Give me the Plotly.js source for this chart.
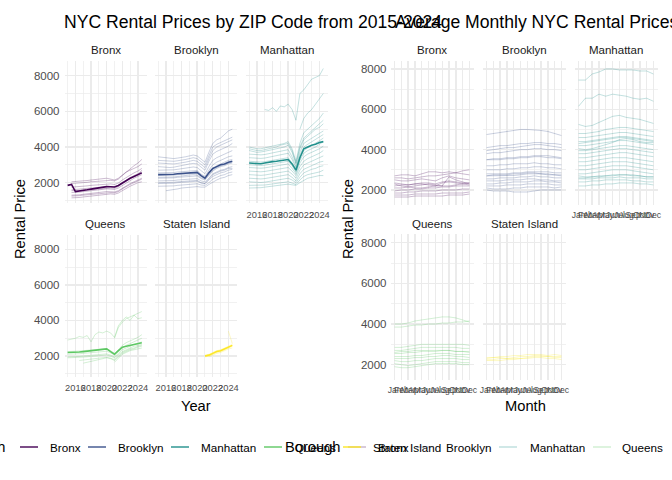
<!DOCTYPE html>
<html><head><meta charset="utf-8">
<script src="https://cdn.plot.ly/plotly-3.0.1.min.js"></script>
<style>html,body{margin:0;padding:0;background:#fff}#chart{width:672px;height:480px}</style>
</head><body><div id="chart"></div>
<script>
// ---------- data ----------
const boroughs = ['Bronx','Brooklyn','Manhattan','Queens','Staten Island'];
const boroughColors = ['#440154','#3B528B','#21908C','#5DC863','#FDE725'];
const years = [2015,2015.5,2016,2016.5,2017,2017.5,2018,2018.5,2019,2019.5,2020,2020.5,2021,2021.5,2022,2022.5,2023,2023.5,2024,2024.5];
const yearTicks = [2016,2018,2020,2022,2024];
const months = ['Jan','Feb','Mar','Apr','May','Jun','Jul','Aug','Sep','Oct','Nov','Dec'];
const n = null;

const bronxZip = [
 [n,2050,2060,2080,2100,2120,2150,2180,2200,2230,2250,2200,2150,2250,2450,2600,2700,2800,2900,3050],
 [n,1750,1760,1770,1800,1820,1850,1870,1900,1920,1950,1930,1900,1980,2150,2300,2450,2550,2650,2800],
 [n,1600,1610,1620,1650,1680,1700,1720,1750,1780,1800,1780,1760,1850,2000,2150,2300,2400,2500,2600],
 [n,1450,1450,1470,1500,1530,1560,1580,1600,1630,1650,1640,1620,1700,1850,2000,2150,2250,2350,2450],
 [n,1300,1300,1320,1350,1380,1400,1430,1450,1480,1500,1490,1480,1550,1700,1850,1950,2050,2150,2250],
 [n,1150,1150,1170,1200,1230,1260,1290,1320,1350,1380,1370,1350,1420,1550,1700,1800,1900,2000,2050],
 [n,1950,1960,1980,2000,2020,2050,2070,2100,2120,2150,2130,2100,2200,2400,2600,2800,2950,3100,3300],
 [n,1550,1550,1560,1580,1600,1620,1650,1680,1700,1720,1700,1690,1780,1950,2100,2250,2350,2450,2700],
 [n,1250,1250,1270,1300,1320,1350,1370,1400,1420,1450,1440,1430,1500,1650,1800,1900,2000,2100,2200]
];
const bronxMean = [1850,1900,1500,1520,1560,1600,1640,1680,1720,1750,1780,1770,1760,1840,1980,2120,2250,2350,2450,2550];

const brooklynZip = [
 [3450,3420,3400,3380,3350,3380,3400,3450,3500,3550,3500,3300,3150,3700,4200,4400,4500,4700,4900,5000],
 [3100,3080,3050,3050,3050,3080,3100,3150,3200,3250,3200,3000,2850,3350,3800,4000,4100,4200,4300,4400],
 [2900,2880,2850,2850,2870,2900,2950,3000,3050,3080,3050,2850,2700,3200,3600,3750,3850,3950,4050,4200],
 [2700,2700,2680,2700,2720,2750,2780,2820,2850,2880,2850,2650,2500,2900,3250,3400,3500,3600,3700,3800],
 [2550,2550,2530,2550,2570,2600,2620,2650,2680,2700,2680,2480,2350,2700,3000,3150,3250,3350,3450,3500],
 [2400,2400,2380,2400,2420,2450,2470,2500,2520,2550,2530,2350,2250,2550,2800,2950,3050,3150,3250,3300],
 [2250,2250,2230,2250,2270,2300,2320,2350,2370,2400,2380,2230,2150,2400,2650,2800,2900,2950,3050,3100],
 [2100,2100,2090,2100,2120,2150,2170,2200,2220,2250,2230,2100,2050,2250,2500,2600,2700,2750,2850,2900],
 [1950,1950,1940,1950,1970,2000,2020,2050,2070,2100,2080,1980,1950,2150,2350,2450,2550,2600,2700,2750],
 [1800,1800,1790,1800,1820,1850,1870,1900,1920,1950,1940,1870,1850,2000,2200,2300,2400,2450,2550,2600],
 [n,n,1550,1570,1600,1650,1700,1720,1750,1780,1780,1750,1750,1900,2050,2150,2250,2300,2400,2450],
 [3250,3230,3200,3200,3200,3230,3250,3300,3350,3400,3350,3150,3000,3500,4000,4150,4250,4350,4450,4550],
 [2000,2000,1990,2000,2020,2050,2070,2100,2130,2150,2130,2000,1950,2200,2450,2550,2650,2700,2800,2800],
 [2300,2300,2290,2300,2320,2350,2380,2400,2430,2450,2430,2280,2200,2450,2700,2850,2950,3000,3100,3150]
];
const brooklynMean = [2450,2450,2430,2450,2470,2500,2520,2550,2570,2600,2580,2400,2250,2550,2800,2900,3000,3050,3150,3200];

const manhattanZip = [
 [n,n,n,n,6100,6050,6200,6000,6300,6250,6400,6100,5500,7000,7200,7500,7800,7900,8000,8400],
 [n,n,n,n,n,n,n,n,n,n,n,n,n,5000,5600,5900,6100,6400,6700,7000],
 [4000,3950,3900,3900,3950,4000,4050,4100,4150,4200,4300,3900,3200,4200,4800,5000,5200,5400,5600,5900],
 [3800,3750,3700,3720,3750,3800,3850,3900,3950,4000,4100,3700,3050,3900,4400,4600,4800,5000,5100,5300],
 [3600,3580,3550,3560,3580,3620,3650,3700,3750,3800,3850,3450,2900,3700,4200,4350,4500,4600,4750,4900],
 [3400,3380,3350,3360,3380,3420,3450,3500,3550,3600,3650,3300,2800,3550,4000,4150,4300,4400,4550,4700],
 [3200,3180,3150,3160,3180,3220,3250,3300,3330,3380,3400,3100,2700,3400,3800,3950,4100,4200,4350,4500],
 [3000,2980,2950,2960,2980,3020,3050,3100,3130,3180,3200,2950,2600,3250,3650,3800,3900,4000,4150,4300],
 [2850,2830,2800,2810,2830,2870,2900,2950,2980,3020,3050,2800,2500,3100,3450,3600,3700,3800,3900,4050],
 [2650,2630,2600,2610,2630,2670,2700,2750,2780,2820,2850,2650,2400,2900,3200,3350,3450,3550,3650,3800],
 [2450,2430,2400,2410,2430,2470,2500,2550,2580,2620,2650,2480,2250,2700,3000,3100,3200,3300,3400,3500],
 [2250,2230,2200,2210,2230,2270,2300,2350,2380,2420,2450,2300,2100,2500,2750,2850,2950,3050,3150,3200],
 [2050,2030,2000,2010,2030,2070,2100,2150,2180,2220,2250,2150,2000,2300,2550,2650,2750,2800,2900,2950],
 [1850,1850,1830,1850,1870,1900,1930,1970,2000,2030,2050,1980,1900,2150,2350,2450,2500,2550,2600,2700],
 [1700,1700,1700,1720,1750,1780,1800,1830,1870,1900,1920,1880,1850,2000,2150,2250,2300,2350,2400,2400],
 [3900,3850,3800,3800,3850,3900,3950,4000,4100,4150,4200,3800,3100,4000,4500,4700,4900,5100,5300,5500]
];
const manhattanMean = [3100,3080,3050,3060,3100,3150,3180,3200,3220,3250,3300,3050,2700,3400,3900,4000,4100,4150,4250,4300];

const queensZip = [
 [2900,2950,3000,3100,3050,3150,2800,3200,3350,3300,3400,3300,3050,3700,4000,4200,4000,4300,4100,4150],
 [n,n,n,n,n,n,n,n,n,n,n,n,3000,3600,3900,4100,4200,4300,4400,4500],
 [2250,2250,2270,2280,2300,2320,2330,2350,2380,2400,2420,2300,2150,2350,2600,2750,2850,2950,3050,3200],
 [2100,2100,2120,2130,2150,2170,2180,2200,2220,2250,2270,2180,2050,2250,2450,2600,2700,2800,2900,3000],
 [1950,1950,1970,1980,2000,2020,2030,2050,2070,2100,2120,2050,1950,2150,2350,2450,2550,2650,2700,2800],
 [1900,1900,1910,1920,1940,1960,1980,2000,2020,2040,2060,1990,1900,2080,2250,2350,2450,2550,2600,2650],
 [n,n,n,n,1600,1650,1700,1750,1800,1850,1900,1850,1750,1950,2150,2250,2350,2400,2500,2550],
 [n,n,n,n,n,n,n,n,n,n,n,n,1650,1900,2100,2200,2300,2350,2400,2450],
 [n,n,n,1750,1780,1800,1820,1850,1870,1900,1930,1880,1800,2000,2200,2300,2400,2450,2550,2600]
];
const queensMean = [2200,2200,2220,2230,2250,2270,2280,2300,2330,2350,2400,2250,2100,2300,2500,2550,2600,2650,2700,2750];

const statenZip = [
 [n,n,n,n,n,n,n,n,n,n,n,n,2000,2050,2150,2250,2300,2400,2500,2600],
 [n,n,n,n,n,n,n,n,n,n,n,n,1950,2000,2100,2200,2250,2350,2450,2550],
 [n,n,n,n,n,n,n,n,n,n,n,n,2050,2100,2200,2300,2350,2450,2550,2650],
 [n,n,n,n,n,n,n,n,n,n,n,n,n,1950,2050,2150,2200,2300,2400,2450],
 [n,n,n,n,n,n,n,n,n,n,n,n,n,n,n,n,n,n,3400,2700]
];
const statenMean = [n,n,n,n,n,n,n,n,n,n,n,n,2000,2050,2150,2250,2300,2400,2500,2600];

const bronxMonthly = [
 [2700,2750,2750,2700,2800,2900,2900,2850,2900,2850,2800,2750],
 [2600,2600,2550,2600,2650,2700,2700,2750,2800,2850,2950,3000],
 [2500,2450,2450,2500,2550,2500,2450,2600,2700,2600,2550,2500],
 [2350,2300,2250,2300,2350,2350,2300,2400,2450,2400,2350,2350],
 [2200,2250,2250,2300,2300,2250,2200,2350,2400,2350,2300,2250],
 [2100,2100,2150,2100,2100,2150,2200,2200,2200,2250,2300,2350],
 [1950,2000,2000,2050,2050,2100,2100,2150,2150,2200,2200,2200],
 [1850,1850,1900,1900,1950,1950,1950,2000,2000,2000,2050,2050],
 [1750,1750,1750,1800,1800,1800,1800,1850,1850,1850,1850,1900],
 [1650,1650,1650,1700,1700,1700,1700,1700,1750,1750,1750,1800],
 [2300,2200,2150,2200,2250,2300,2250,2200,2650,2500,2400,2300]
];
const brooklynMonthly = [
 [4750,4800,4850,4900,4950,5000,5000,4980,4950,4900,4800,4700],
 [4100,4150,4200,4200,4250,4300,4300,4350,4350,4300,4300,4250],
 [3950,4000,4050,4100,4100,4150,4200,4250,4250,4200,4150,4100],
 [3800,3850,3850,3900,3950,4000,4000,4050,4050,4000,4000,3950],
 [3500,3550,3550,3600,3600,3650,3650,3700,3700,3700,3650,3600],
 [3200,3200,3250,3250,3300,3300,3300,3350,3300,3300,3250,3250],
 [3000,3000,3000,3050,3050,3100,3100,3150,3150,3100,3100,3050],
 [2800,2800,2800,2800,2850,2850,2900,2900,2900,2900,2850,2850],
 [2700,2700,2700,2700,2720,2750,2800,2800,2800,2750,2750,2700],
 [2550,2550,2600,2600,2600,2650,2650,2700,2650,2650,2600,2600],
 [2450,2450,2450,2500,2500,2500,2550,2550,2500,2500,2450,2450],
 [2300,2300,2350,2350,2400,2400,2400,2450,2450,2400,2400,2350],
 [2200,2200,2200,2250,2250,2250,2300,2300,2300,2300,2250,2250],
 [2100,2050,2050,2050,2100,2100,2150,2150,2150,2150,2100,2150],
 [2000,1950,1950,1950,1900,1900,1900,1950,2000,2000,2000,2000],
 [2700,2750,2750,2750,2800,2800,2850,2850,2800,2800,2750,2750],
 [3500,3500,3500,3550,3550,3600,3600,3650,3650,3600,3600,3550]
];
const manhattanMonthly = [
 [7450,7450,7750,7850,8000,8000,7950,7950,7950,7900,7900,7750],
 [6150,6550,6550,6750,6650,6750,6700,6650,6550,6500,6550,6400],
 [5250,5150,5200,5350,5500,5650,5700,5600,5550,5500,5400,5300],
 [4800,4800,4850,4900,5000,5050,5100,5100,5050,5000,4950,4900],
 [4600,4600,4650,4700,4750,4800,4850,4850,4800,4750,4700,4650],
 [4400,4400,4450,4500,4550,4600,4650,4650,4600,4550,4500,4450],
 [4200,4200,4250,4300,4350,4400,4450,4450,4400,4350,4300,4250],
 [4050,4000,4050,4150,4250,4350,4500,4550,4500,4400,4350,4350],
 [3950,3950,4000,4050,4100,4150,4200,4200,4150,4100,4050,4000],
 [3800,3800,3850,3900,3950,4000,4050,4050,4000,3950,3900,3850],
 [3600,3600,3650,3700,3750,3800,3850,3850,3800,3750,3700,3650],
 [3400,3400,3450,3500,3550,3600,3600,3600,3550,3500,3450,3400],
 [3200,3200,3250,3300,3350,3400,3400,3400,3350,3300,3250,3200],
 [3000,3000,3050,3100,3150,3200,3200,3200,3150,3100,3050,3000],
 [2800,2800,2850,2900,2950,3000,3000,3000,2950,2900,2850,2800],
 [2700,2650,2650,2700,2700,2750,2750,2750,2700,2700,2650,2650],
 [2550,2550,2550,2600,2600,2600,2650,2600,2600,2600,2550,2550],
 [2400,2400,2450,2450,2500,2500,2500,2500,2450,2450,2400,2400],
 [2200,2200,2250,2250,2300,2300,2350,2350,2350,2300,2300,2250],
 [4300,4350,4400,4450,4500,4550,4600,4600,4550,4500,4450,4400],
 [2600,2600,2650,2650,2700,2700,2750,2750,2750,2700,2650,2650]
];
const queensMonthly = [
 [4000,4000,4050,4150,4200,4250,4300,4350,4350,4300,4200,4100],
 [3850,3850,3900,3950,3950,4000,4000,4050,4050,4100,4100,4150],
 [2850,2850,2900,2950,3000,3000,3000,3000,3000,3000,3000,2950],
 [2700,2700,2750,2800,2850,2850,2850,2850,2850,2850,2800,2800],
 [2550,2550,2600,2600,2650,2700,2700,2700,2700,2650,2650,2650],
 [2400,2400,2400,2450,2450,2500,2550,2550,2550,2500,2500,2500],
 [2300,2300,2300,2350,2350,2400,2400,2450,2450,2400,2400,2350],
 [2200,2150,2150,2200,2200,2250,2300,2300,2300,2300,2250,2250],
 [2050,2000,1950,2000,2050,2100,2150,2150,2150,2150,2100,2100],
 [1900,1850,1850,1900,1950,2000,2050,2050,2050,2050,2000,2000],
 [2600,2650,2650,2700,2700,2650,2650,2700,2700,2650,2650,2600]
];
const statenMonthly = [
 [2200,2250,2300,2300,2350,2400,2400,2450,2500,2450,2500,2450],
 [2300,2350,2350,2300,2300,2300,2350,2400,2400,2400,2350,2350],
 [2250,2200,2200,2250,2250,2300,2300,2350,2350,2300,2300,2250],
 [2350,2350,2400,2400,2450,2450,2500,2500,2450,2400,2400,2400]
];

const yearlyByBorough = [bronxZip, brooklynZip, manhattanZip, queensZip, statenZip];
const meanByBorough = [bronxMean, brooklynMean, manhattanMean, queensMean, statenMean];
const monthlyByBorough = [bronxMonthly, brooklynMonthly, manhattanMonthly, queensMonthly, statenMonthly];

// ---------- helpers ----------
const W = 672, H = 480;
const px = v => v / W;
const py = v => 1 - v / H;
function rgba(hex, a) {
  const r = parseInt(hex.slice(1,3),16), g = parseInt(hex.slice(3,5),16), b = parseInt(hex.slice(5,7),16);
  return `rgba(${r},${g},${b},${a})`;
}
const FONT = '"Liberation Sans", Arial, Helvetica, sans-serif';

// panel geometry (pixels)
const leftCols = [64.5, 155, 246], leftW = 82;
const leftRows = [[61, 203.2], [234.7, 376.5]];
const rightCols = [390.5, 482.5, 574.5], rightW = 83;
const rightRows = [[60.5, 205.1], [234.2, 379.9]];
const cell = i => ({col: i % 3, row: Math.floor(i / 3)});

const traces = [];
const layout = {
  width: W, height: H,
  margin: {l: 0, r: 0, t: 0, b: 0},
  paper_bgcolor: '#fff', plot_bgcolor: 'rgba(0,0,0,0)',
  showlegend: false,
  font: {family: FONT, color: '#4D4D4D'},
  title: {text: 'NYC Rental Prices by ZIP Code from 2015-2024', x: px(64), xanchor: 'left', xref: 'paper',
          y: py(22), yanchor: 'middle', yref: 'paper', font: {size: 17.6, color: '#000', family: FONT}},
  annotations: [], shapes: []
};

const gridCol = '#EBEBEB';

boroughs.forEach((b, i) => {
  const {col, row} = cell(i);
  // ----- left (yearly) -----
  const ax = i + 1;
  const c = boroughColors[i];
  yearlyByBorough[i].forEach(z => traces.push({
    x: years, y: z, type: 'scatter', mode: 'lines', xaxis: 'x' + ax, yaxis: 'y' + ax,
    line: {color: rgba(c, 0.45), width: 0.6}, hoverinfo: 'skip', name: b
  }));
  traces.push({x: years, y: meanByBorough[i], type: 'scatter', mode: 'lines', xaxis: 'x' + ax, yaxis: 'y' + ax,
    line: {color: c, width: 1.6}, name: b + ' mean'});
  const showX = (row === 1) || (col === 2);
  layout['xaxis' + (ax === 1 ? '' : ax)] = {
    domain: [px(leftCols[col]), px(leftCols[col] + leftW)], anchor: 'y' + ax,
    range: [2014.6, 2025.1], tickmode: 'array', tickvals: yearTicks, ticktext: yearTicks.map(String),
    showticklabels: showX, tickangle: 0, ticks: '', ticklabelstandoff: 4,
    tickfont: {size: 9.3, color: '#4D4D4D'},
    showgrid: true, gridcolor: gridCol, gridwidth: 1.4, zeroline: false, showline: false,
    minor: {tickmode: 'array', tickvals: [2015, 2017, 2019, 2021, 2023, 2025], showgrid: true, gridcolor: gridCol, gridwidth: 0.7}
  };
  layout['yaxis' + (ax === 1 ? '' : ax)] = {
    domain: [py(leftRows[row][1]), py(leftRows[row][0])], anchor: 'x' + ax,
    range: [850, 8820], tickmode: 'array', tickvals: [2000, 4000, 6000, 8000],
    showticklabels: col === 0, ticks: '', ticklabelstandoff: 4,
    tickfont: {size: 11.5, color: '#4D4D4D'},
    showgrid: true, gridcolor: gridCol, gridwidth: 1.4, zeroline: false, showline: false,
    minor: {tickmode: 'array', tickvals: [1000, 3000, 5000, 7000], showgrid: true, gridcolor: gridCol, gridwidth: 0.7}
  };
  layout.annotations.push({text: b, x: px(leftCols[col] + leftW / 2), y: py(leftRows[row][0] - 11),
    xref: 'paper', yref: 'paper', showarrow: false, xanchor: 'center', yanchor: 'middle',
    font: {size: 11.5, color: '#1A1A1A'}});

  // ----- right (monthly) -----
  const rx = i + 6;
  monthlyByBorough[i].forEach(z => traces.push({
    x: months, y: z, type: 'scatter', mode: 'lines', xaxis: 'x' + rx, yaxis: 'y' + rx,
    line: {color: rgba(c, 0.3), width: 0.9}, hoverinfo: 'skip', name: b
  }));
  layout['xaxis' + rx] = {
    domain: [px(rightCols[col]), px(rightCols[col] + rightW)], anchor: 'y' + rx,
    type: 'category', categoryorder: 'array', categoryarray: months, range: [-0.6, 11.6],
    tickmode: 'array', tickvals: months, ticktext: months,
    showticklabels: showX, tickangle: 0, ticks: '', ticklabelstandoff: 3,
    tickfont: {size: 8.6, color: '#4D4D4D'},
    showgrid: true, gridcolor: gridCol, gridwidth: 1.4, zeroline: false, showline: false
  };
  layout['yaxis' + rx] = {
    domain: [py(rightRows[row][1]), py(rightRows[row][0])], anchor: 'x' + rx,
    range: [1250, 8420], tickmode: 'array', tickvals: [2000, 4000, 6000, 8000],
    showticklabels: col === 0, ticks: '', ticklabelstandoff: 3,
    tickfont: {size: 11.5, color: '#4D4D4D'},
    showgrid: true, gridcolor: gridCol, gridwidth: 1.4, zeroline: false, showline: false,
    minor: {tickmode: 'array', tickvals: [3000, 5000, 7000], showgrid: true, gridcolor: gridCol, gridwidth: 0.7}
  };
  layout.annotations.push({text: b, x: px(rightCols[col] + rightW / 2), y: py(rightRows[row][0] - 10.5),
    xref: 'paper', yref: 'paper', showarrow: false, xanchor: 'center', yanchor: 'middle',
    font: {size: 11.5, color: '#1A1A1A'}});
});

// titles and axis titles
const ann = (text, x, y, opts) => layout.annotations.push(Object.assign({text, x: px(x), y: py(y), xref: 'paper', yref: 'paper',
  showarrow: false, xanchor: 'center', yanchor: 'middle'}, opts));
ann('Average Monthly NYC Rental Prices', 393, 22, {xanchor: 'left', font: {size: 17.6, color: '#000'}});
ann('Rental Price', 20, 219, {textangle: -90, font: {size: 14.7, color: '#000'}});
ann('Rental Price', 348, 219, {textangle: -90, font: {size: 14.7, color: '#000'}});
ann('Year', 196, 406, {font: {size: 14.7, color: '#000'}});
ann('Month', 525, 406, {font: {size: 14.7, color: '#000'}});

// legends (left: solid keys, right: faded keys)
const legY = 447;
const leftKeys = [20, 88, 171, 264, 343], leftText = [48, 116, 199, 293, 371];
const rightKeys = [348, 416, 499, 593, 687], rightText = [376, 444, 528, 620, 715];
ann('Borough', 8, legY, {xanchor: 'right', font: {size: 14.7, color: '#000'}});
ann('Borough', 283, legY, {xanchor: 'left', font: {size: 14.7, color: '#000'}});
boroughs.forEach((b, i) => {
  layout.shapes.push({type: 'line', xref: 'paper', yref: 'paper', x0: px(leftKeys[i]), x1: px(leftKeys[i] + 18),
    y0: py(legY), y1: py(legY), line: {color: boroughColors[i], width: 1.4}});
  ann(b, leftText[i], legY, {xanchor: 'left', font: {size: 11.7, color: '#000'}});
  layout.shapes.push({type: 'line', xref: 'paper', yref: 'paper', x0: px(rightKeys[i]), x1: px(rightKeys[i] + 18),
    y0: py(legY), y1: py(legY), line: {color: rgba(boroughColors[i], 0.3), width: 1.4}});
  ann(b, rightText[i], legY, {xanchor: 'left', font: {size: 11.7, color: '#000'}});
});

Plotly.newPlot('chart', traces, layout, {displayModeBar: false, staticPlot: true});
</script>
</body></html>
